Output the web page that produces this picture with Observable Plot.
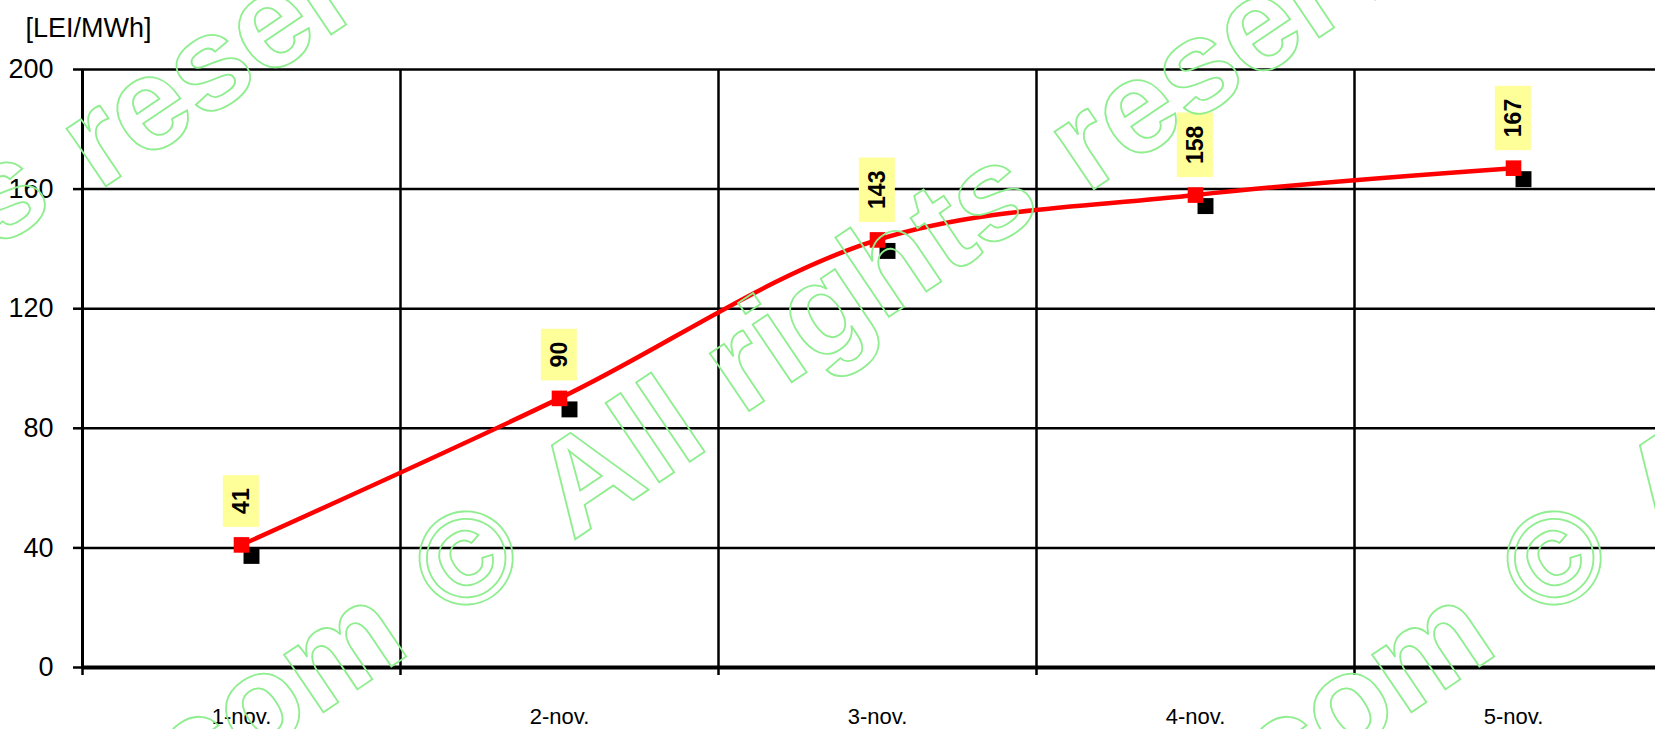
<!DOCTYPE html>
<html><head><meta charset="utf-8">
<script src="https://cdn.jsdelivr.net/npm/d3@7"></script>
<script src="https://cdn.jsdelivr.net/npm/@observablehq/plot@0.6"></script>
<style>
html,body{margin:0;padding:0;background:#fff;overflow:hidden;}
svg{display:block;overflow:hidden;}
</style>
</head><body><div id="chart"></div>
<script>
// ---- data ----
const dates = ["1-nov.", "2-nov.", "3-nov.", "4-nov.", "5-nov."];
const prices = [41, 90, 143, 158, 167];
const yTicks = [0, 40, 80, 120, 160, 200];
const unitLabel = "[LEI/MWh]";

const data = dates.map((d, i) => ({date: d, i, value: prices[i]}));
const bounds = d3.range(dates.length + 1);           // category boundaries
const xc = d => d.i + 0.5;                            // category centre

const FONT = "'Liberation Sans', Arial, Helvetica, sans-serif";

const plot = Plot.plot({
  width: 1655,
  height: 729,
  marginLeft: 82,
  marginTop: 69,
  marginBottom: 62,
  marginRight: 0,
  style: {fontFamily: FONT, fontSize: "27px", background: "#fff", color: "#000"},
  x: {type: "linear", domain: [0, dates.length], range: [82, 1672]},
  y: {domain: [0, 200], range: [667, 69]},
  marks: [
    // horizontal grid
    Plot.ruleY(yTicks.filter(v => v > 0), {stroke: "#000", strokeWidth: 2.5}),
    // vertical grid at category boundaries
    Plot.ruleX(bounds.filter(v => v > 0), {y1: 0, y2: 200, stroke: "#000", strokeWidth: 2.5}),
    // y axis line
    Plot.ruleX([0], {y1: 0, y2: 200, stroke: "#000", strokeWidth: 3}),
    // x axis line
    Plot.ruleY([0], {stroke: "#000", strokeWidth: 4}),
    // y axis ticks + labels
    Plot.axisY(yTicks, {tickSize: 9, tickPadding: 20, strokeWidth: 2.5, fontSize: 27, label: null}),
    // x axis tick marks at boundaries
    Plot.axisX(bounds, {tickSize: 8, tickFormat: () => "", strokeWidth: 2.5, label: null}),
    // x labels
    Plot.text(data, {x: xc, text: "date", frameAnchor: "bottom", lineAnchor: "top", dy: 41, fontSize: 22}),
    // unit label
    Plot.text([unitLabel], {frameAnchor: "top-left", textAnchor: "start", lineAnchor: "middle", dx: -57, dy: -41, fontSize: 27}),
    // marker shadows
    Plot.dot(data, {x: xc, y: "value", symbol: "square", r: 9, fill: "#000", stroke: null, dx: 10, dy: 11}),
    // smoothed line
    Plot.line(data, {x: xc, y: "value", stroke: "#ff0000", strokeWidth: 4.5, curve: "catmull-rom"}),
    // markers
    Plot.dot(data, {x: xc, y: "value", symbol: "square", r: 8.8, fill: "#ff0000", stroke: null}),
    // value labels (rotated)
    Plot.text(data, {x: xc, y: "value", text: d => String(d.value), rotate: -90, textAnchor: "start",
      lineAnchor: "middle", dy: -31, fontSize: 23, fontWeight: "bold", fill: "#000", className: "value-label"})
  ]
});

document.getElementById("chart").append(plot);

// yellow boxes behind value labels
const NS = "http://www.w3.org/2000/svg";
const labelTexts = new Set(prices.map(String));
d3.select(plot).selectAll("text").each(function () {
  const g = this.parentNode;
  const isValueLabel = (g.getAttribute("class") || "").includes("value-label") ||
    (g.getAttribute("font-weight") === "bold" && labelTexts.has(this.textContent));
  if (!isValueLabel) return;
  const bb = this.getBBox();
  const r = document.createElementNS(NS, "rect");
  r.setAttribute("x", bb.x - 13);
  r.setAttribute("y", bb.y + bb.height / 2 - 18);
  r.setAttribute("width", bb.width + 26);
  r.setAttribute("height", 36);
  r.setAttribute("fill", "#ffff99");
  r.setAttribute("stroke", "none");
  const t = this.getAttribute("transform");
  if (t) r.setAttribute("transform", t);
  g.insertBefore(r, this);
});

// watermark (outlined, diagonal)
const wmWords = [
  {t: "com", x: 275, y: 690},
  {t: "©", x: 466, y: 558},
  {t: "All", x: 617, y: 456},
  {t: "rights", x: 868, y: 276},
  {t: "reserved", x: 1289, y: 3}
];
const wmShifts = [[0, 0], [-988, -3], [1088, 0]];
const wm = d3.select(plot).append("g").attr("pointer-events", "none");
for (const [sx, sy] of wmShifts) {
  for (const w of wmWords) {
    wm.append("text")
      .attr("transform", `translate(${w.x + sx},${w.y + sy}) rotate(-34)`)
      .attr("text-anchor", "middle")
      .attr("dominant-baseline", "central")
      .attr("font-family", FONT)
      .attr("font-weight", "bold")
      .attr("font-size", 132)
      .attr("fill", "none")
      .attr("stroke", "#8fee8f")
      .attr("stroke-width", 1.8)
      .text(w.t);
  }
}
</script>
</body></html>
